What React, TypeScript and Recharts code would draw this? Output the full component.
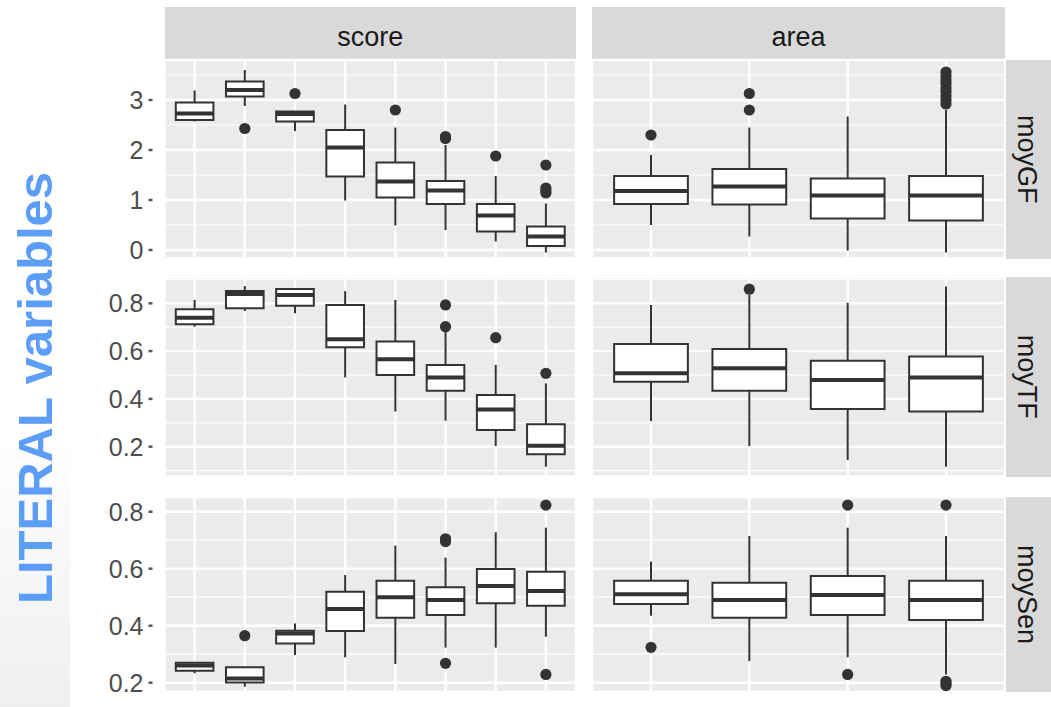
import React from 'react';
import {
  ComposedChart,
  XAxis,
  YAxis,
  CartesianGrid,
  ReferenceArea,
  ReferenceLine,
  Scatter,
} from 'recharts';

// ---------- categories & labels ----------
const SCORE_LEVELS = [1, 2, 3, 4, 5, 6, 7, 8];
const AREA_LEVELS = [1, 2, 3, 4];
const COL_NAMES = ['score', 'area'];
const ROW_NAMES = ['moyGF', 'moyTF', 'moySen'];
const SIDE_TITLE = 'LITERAL variables';

// ---------- y axes ----------
const GF_TICKS = [0, 1, 2, 3];
const GF_MINOR = [0.5, 1.5, 2.5, 3.5];
const GF_DOMAIN = [-0.17, 3.8];
const TF_TICKS = [0.2, 0.4, 0.6, 0.8];
const TF_MINOR = [0.1, 0.3, 0.5, 0.7, 0.9];
const TF_DOMAIN = [0.0753, 0.91];
const SEN_TICKS = [0.2, 0.4, 0.6, 0.8];
const SEN_MINOR = [0.3, 0.5, 0.7];
const SEN_DOMAIN = [0.1674, 0.8516];

// ---------- moyGF ----------
const GF_SCORE_LO = [2.57, 2.88, 2.38, 0.99, 0.49, 0.4, 0.17, -0.05];
const GF_SCORE_Q1 = [2.6, 3.07, 2.57, 1.47, 1.05, 0.92, 0.37, 0.08];
const GF_SCORE_MED = [2.73, 3.2, 2.72, 2.05, 1.37, 1.19, 0.69, 0.27];
const GF_SCORE_Q3 = [2.95, 3.37, 2.77, 2.4, 1.75, 1.38, 0.92, 0.47];
const GF_SCORE_HI = [3.19, 3.6, 2.77, 2.91, 2.45, 2.1, 1.48, 0.93];
const GF_SCORE_OUT = [[], [2.43], [3.13], [], [2.8], [2.23, 2.27], [1.88], [1.14, 1.19, 1.24, 1.7]];

const GF_AREA_LO = [0.5, 0.27, -0.01, -0.05];
const GF_AREA_Q1 = [0.92, 0.91, 0.63, 0.59];
const GF_AREA_MED = [1.18, 1.27, 1.09, 1.09];
const GF_AREA_Q3 = [1.48, 1.62, 1.43, 1.48];
const GF_AREA_HI = [1.9, 2.45, 2.67, 2.8];
const GF_AREA_OUT = [[2.3], [2.8, 3.13], [], [2.92, 3.0, 3.08, 3.17, 3.24, 3.33, 3.4, 3.48, 3.56]];

// ---------- moyTF ----------
const TF_SCORE_LO = [0.702, 0.768, 0.758, 0.49, 0.347, 0.309, 0.203, 0.116];
const TF_SCORE_Q1 = [0.712, 0.779, 0.79, 0.616, 0.5, 0.434, 0.27, 0.168];
const TF_SCORE_MED = [0.74, 0.839, 0.835, 0.65, 0.566, 0.489, 0.356, 0.204];
const TF_SCORE_Q3 = [0.775, 0.851, 0.86, 0.793, 0.64, 0.542, 0.416, 0.294];
const TF_SCORE_HI = [0.814, 0.872, 0.86, 0.851, 0.814, 0.685, 0.542, 0.465];
const TF_SCORE_OUT = [[], [], [], [], [], [0.702, 0.793], [0.656], [0.507]];

const TF_AREA_LO = [0.307, 0.203, 0.144, 0.116];
const TF_AREA_Q1 = [0.472, 0.434, 0.358, 0.347];
const TF_AREA_MED = [0.507, 0.528, 0.479, 0.489];
const TF_AREA_Q3 = [0.63, 0.609, 0.56, 0.577];
const TF_AREA_HI = [0.793, 0.835, 0.802, 0.87];
const TF_AREA_OUT = [[], [0.859], [], []];

// ---------- moySen ----------
const SEN_SCORE_LO = [0.233, 0.186, 0.297, 0.289, 0.266, 0.323, 0.323, 0.361];
const SEN_SCORE_Q1 = [0.242, 0.201, 0.338, 0.381, 0.428, 0.438, 0.479, 0.47];
const SEN_SCORE_MED = [0.26, 0.215, 0.373, 0.459, 0.5, 0.49, 0.539, 0.522];
const SEN_SCORE_Q3 = [0.27, 0.254, 0.382, 0.519, 0.558, 0.535, 0.599, 0.589];
const SEN_SCORE_HI = [0.27, 0.254, 0.408, 0.578, 0.681, 0.639, 0.728, 0.744];
const SEN_SCORE_OUT = [[], [0.365], [], [], [], [0.268, 0.695, 0.705], [], [0.229, 0.823]];

const SEN_AREA_LO = [0.435, 0.276, 0.289, 0.229];
const SEN_AREA_Q1 = [0.476, 0.428, 0.438, 0.42];
const SEN_AREA_MED = [0.51, 0.49, 0.508, 0.49];
const SEN_AREA_Q3 = [0.558, 0.551, 0.574, 0.558];
const SEN_AREA_HI = [0.625, 0.715, 0.744, 0.715];
const SEN_AREA_OUT = [[0.324], [], [0.229, 0.823], [0.19, 0.197, 0.205, 0.823]];

// ---------- helpers ----------
type Box = { x: number; lo: number; q1: number; med: number; q3: number; hi: number };

function buildBoxes(levels: number[], lo: number[], q1: number[], med: number[], q3: number[], hi: number[]): Box[] {
  return levels.map((x, i) => ({ x, lo: lo[i], q1: q1[i], med: med[i], q3: q3[i], hi: hi[i] }));
}
function buildOutliers(levels: number[], outs: number[][]) {
  const res: { x: number; y: number }[] = [];
  levels.forEach((x, i) => (outs[i] || []).forEach((y) => res.push({ x, y })));
  return res;
}

const INK = '#333333';
const HALF = 0.375;
const FONT = '"Liberation Sans", Arial, Helvetica, sans-serif';
const PAD = 20; // extra svg room above/below each panel so tick labels are never clipped

// layout
const COL_X = [
  { left: 100, width: 476, yW: 64.5 },
  { left: 592, width: 413, yW: 0 },
];
const ROW_Y = [
  { top: 60, height: 198.5 },
  { top: 277, height: 199.5 },
  { top: 497, height: 195 },
];

const OutlierDot = (p: any) => <circle cx={p.cx} cy={p.cy} r={5.6} fill={INK} />;

function Panel(props: any) {
  const { left, top, width, height, yW, levels, domain, ticks, minor, boxes, outliers, fmt } = props;
  const showY = yW > 0;
  const renderTick = (t: any) => (
    <g>
      <text
        x={t.x - 21}
        y={t.y}
        dy="0.36em"
        textAnchor="end"
        fill="#4D4D4D"
        fontSize={25}
        fontFamily={FONT}
      >
        {fmt(t.payload.value)}
      </text>
      <line x1={t.x - 16} x2={t.x - 12} y1={t.y} y2={t.y} stroke="#555" strokeWidth={2.5} />
    </g>
  );
  return (
    <div style={{ position: 'absolute', left, top: top - PAD }}>
      <ComposedChart
        width={width}
        height={height + 2 * PAD}
        margin={{ top: PAD, right: 0, bottom: PAD, left: 0 }}
      >
        <XAxis
          type="number"
          dataKey="x"
          domain={[0.4, levels.length + 0.6]}
          ticks={levels}
          allowDataOverflow
          hide
        />
        <YAxis
          type="number"
          domain={domain}
          ticks={ticks}
          interval={0}
          allowDataOverflow
          hide={!showY}
          width={yW || 1}
          axisLine={false}
          tickLine={false}
          tickSize={0}
          tickMargin={0}
          tick={renderTick}
        />
        <YAxis yAxisId="minor" type="number" domain={domain} ticks={minor} interval={0} allowDataOverflow hide />
        <CartesianGrid yAxisId="minor" fill="#EBEBEB" fillOpacity={1} vertical={false} stroke="#FFFFFF" strokeWidth={1.2} />
        <CartesianGrid stroke="#FFFFFF" strokeWidth={2.4} />
        {boxes.map((b: Box) => (
          <ReferenceLine
            key={'wh' + b.x}
            segment={[{ x: b.x, y: b.q3 }, { x: b.x, y: b.hi }]}
            stroke={INK}
            strokeWidth={2}
          />
        ))}
        {boxes.map((b: Box) => (
          <ReferenceLine
            key={'wl' + b.x}
            segment={[{ x: b.x, y: b.lo }, { x: b.x, y: b.q1 }]}
            stroke={INK}
            strokeWidth={2}
          />
        ))}
        {boxes.map((b: Box) => (
          <ReferenceArea
            key={'bx' + b.x}
            x1={b.x - HALF}
            x2={b.x + HALF}
            y1={b.q1}
            y2={b.q3}
            fill="#FFFFFF"
            fillOpacity={1}
            stroke={INK}
            strokeWidth={2}
          />
        ))}
        {boxes.map((b: Box) => (
          <ReferenceLine
            key={'md' + b.x}
            segment={[{ x: b.x - HALF, y: b.med }, { x: b.x + HALF, y: b.med }]}
            stroke={INK}
            strokeWidth={4}
          />
        ))}
        <Scatter data={outliers} dataKey="y" shape={OutlierDot} isAnimationActive={false} />
      </ComposedChart>
    </div>
  );
}

const fmtInt = (v: number) => String(v);
const fmtDec = (v: number) => v.toFixed(1);

const PANELS = [
  {
    row: 0,
    domain: GF_DOMAIN,
    ticks: GF_TICKS,
    minor: GF_MINOR,
    fmt: fmtInt,
    cells: [
      { levels: SCORE_LEVELS, boxes: buildBoxes(SCORE_LEVELS, GF_SCORE_LO, GF_SCORE_Q1, GF_SCORE_MED, GF_SCORE_Q3, GF_SCORE_HI), outliers: buildOutliers(SCORE_LEVELS, GF_SCORE_OUT) },
      { levels: AREA_LEVELS, boxes: buildBoxes(AREA_LEVELS, GF_AREA_LO, GF_AREA_Q1, GF_AREA_MED, GF_AREA_Q3, GF_AREA_HI), outliers: buildOutliers(AREA_LEVELS, GF_AREA_OUT) },
    ],
  },
  {
    row: 1,
    domain: TF_DOMAIN,
    ticks: TF_TICKS,
    minor: TF_MINOR,
    fmt: fmtDec,
    cells: [
      { levels: SCORE_LEVELS, boxes: buildBoxes(SCORE_LEVELS, TF_SCORE_LO, TF_SCORE_Q1, TF_SCORE_MED, TF_SCORE_Q3, TF_SCORE_HI), outliers: buildOutliers(SCORE_LEVELS, TF_SCORE_OUT) },
      { levels: AREA_LEVELS, boxes: buildBoxes(AREA_LEVELS, TF_AREA_LO, TF_AREA_Q1, TF_AREA_MED, TF_AREA_Q3, TF_AREA_HI), outliers: buildOutliers(AREA_LEVELS, TF_AREA_OUT) },
    ],
  },
  {
    row: 2,
    domain: SEN_DOMAIN,
    ticks: SEN_TICKS,
    minor: SEN_MINOR,
    fmt: fmtDec,
    cells: [
      { levels: SCORE_LEVELS, boxes: buildBoxes(SCORE_LEVELS, SEN_SCORE_LO, SEN_SCORE_Q1, SEN_SCORE_MED, SEN_SCORE_Q3, SEN_SCORE_HI), outliers: buildOutliers(SCORE_LEVELS, SEN_SCORE_OUT) },
      { levels: AREA_LEVELS, boxes: buildBoxes(AREA_LEVELS, SEN_AREA_LO, SEN_AREA_Q1, SEN_AREA_MED, SEN_AREA_Q3, SEN_AREA_HI), outliers: buildOutliers(AREA_LEVELS, SEN_AREA_OUT) },
    ],
  },
];

export default function App() {
  return (
    <div
      style={{
        position: 'absolute',
        left: 0,
        top: 0,
        width: 1051,
        height: 707,
        overflow: 'hidden',
        background: '#FFFFFF',
        fontFamily: FONT,
      }}
    >
      {/* faint slide background at lower left */}
      <svg width={80} height={707} style={{ position: 'absolute', left: 0, top: 0 }}>
        <defs>
          <linearGradient id="bgfade" x1="0" y1="0" x2="0" y2="1">
            <stop offset="0" stopColor="#E6E8EB" stopOpacity={0} />
            <stop offset="1" stopColor="#E6E8EB" stopOpacity={0.7} />
          </linearGradient>
        </defs>
        <rect x={0} y={430} width={70} height={277} fill="url(#bgfade)" />
      </svg>

      {/* column strips */}
      {COL_NAMES.map((name, c) => {
        const plotLeft = COL_X[c].left + COL_X[c].yW;
        const w = COL_X[c].left + COL_X[c].width - plotLeft;
        return (
          <div
            key={name}
            style={{
              position: 'absolute',
              left: plotLeft,
              top: 7,
              width: w,
              height: 53,
              background: '#D9D9D9',
              color: '#1A1A1A',
              fontSize: 27,
              lineHeight: '53px',
              textAlign: 'center',
              paddingTop: 4,
              boxSizing: 'border-box',
            }}
          >
            {name}
          </div>
        );
      })}

      {/* row strips */}
      {ROW_NAMES.map((name, r) => (
        <div
          key={name}
          style={{
            position: 'absolute',
            left: 1006,
            top: ROW_Y[r].top,
            width: 60,
            height: ROW_Y[r].height,
            background: '#D9D9D9',
          }}
        >
          <svg width={60} height={ROW_Y[r].height} style={{ position: 'absolute', left: 0, top: 0 }}>
            <text
              transform={`translate(12, ${ROW_Y[r].height / 2}) rotate(90)`}
              textAnchor="middle"
              fontSize={27}
              fill="#1A1A1A"
              fontFamily={FONT}
            >
              {name}
            </text>
          </svg>
        </div>
      ))}

      {/* panels */}
      {PANELS.map((p) =>
        p.cells.map((cell, c) => (
          <Panel
            key={p.row + '-' + c}
            left={COL_X[c].left}
            top={ROW_Y[p.row].top}
            width={COL_X[c].width}
            height={ROW_Y[p.row].height}
            yW={COL_X[c].yW}
            levels={cell.levels}
            domain={p.domain}
            ticks={p.ticks}
            minor={p.minor}
            boxes={cell.boxes}
            outliers={cell.outliers}
            fmt={p.fmt}
          />
        ))
      )}

      {/* side title */}
      <svg width={80} height={707} style={{ position: 'absolute', left: 0, top: 0 }}>
        <text
          transform="translate(52, 388) rotate(-90)"
          textAnchor="middle"
          fontSize={49}
          fontWeight="bold"
          fill="#5C9DF7"
          fontFamily={FONT}
        >
          {SIDE_TITLE}
        </text>
      </svg>
    </div>
  );
}
